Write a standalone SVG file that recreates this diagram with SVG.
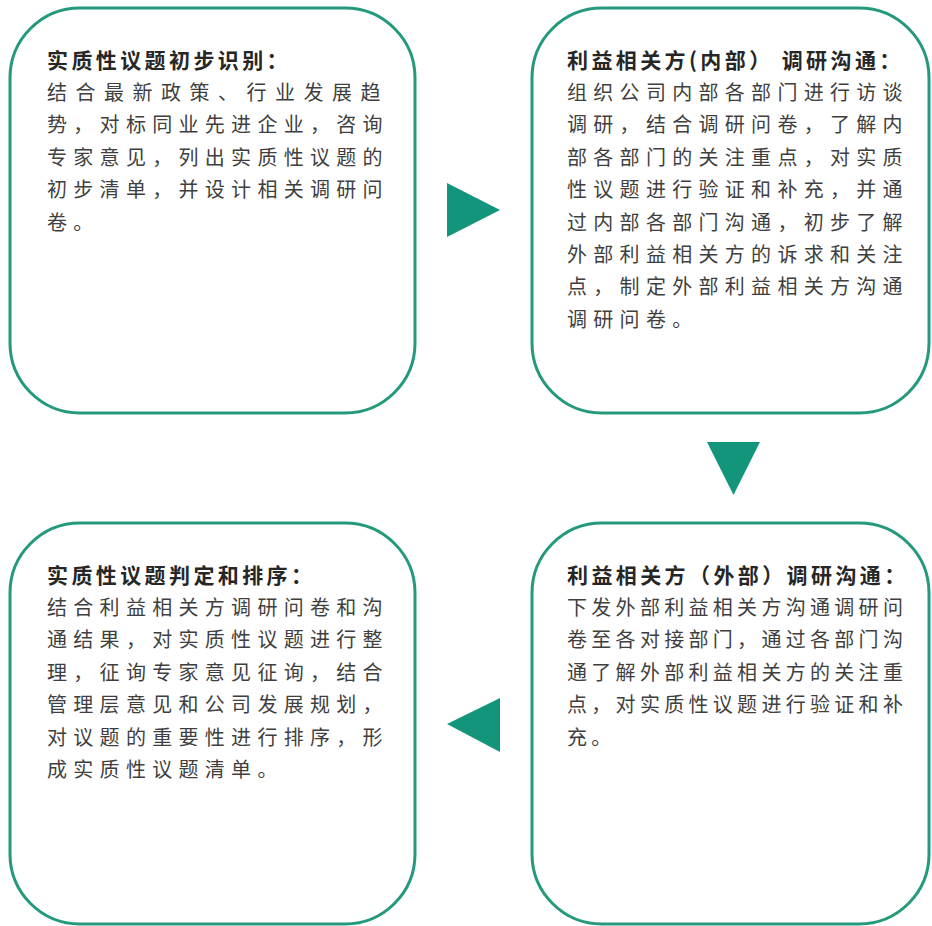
<svg xmlns="http://www.w3.org/2000/svg" width="932" height="926" viewBox="0 0 932 926">
<style>
.box{fill:#ffffff;stroke:#24997c;stroke-width:3}
.tri{fill:#12957a}
text{font-family:"Noto Sans CJK SC","Noto Sans",sans-serif}
.t{font-size:21px;font-weight:bold;fill:#262626;letter-spacing:3.4px}
.b{font-size:20px;fill:#3f3f3f}
.s1{letter-spacing:8.5px}
.s2{letter-spacing:6.3px}
.s4{letter-spacing:4.3px}
</style>
<rect width="932" height="926" fill="#ffffff"/>
<g id="node1">
<rect class="box" x="10" y="8" width="405" height="405" rx="70" ry="70"/>
<text class="t" x="47" y="68">实质性议题初步识别：</text>
<text class="b s1" x="47" y="100">结合最新政策、行业发展趋</text>
<text class="b s2" x="47" y="132.4">势，对标同业先进企业，咨询</text>
<text class="b s2" x="47" y="164.8">专家意见，列出实质性议题的</text>
<text class="b s2" x="47" y="197.2">初步清单，并设计相关调研问</text>
<text class="b s2" x="47" y="229.6">卷。</text>
</g>
<g id="node2">
<rect class="box" x="532" y="8" width="397" height="405" rx="70" ry="70"/>
<text class="t" x="567" y="68">利益相关方(内部） 调研沟通：</text>
<text class="b s2" x="567" y="100">组织公司内部各部门进行访谈</text>
<text class="b s2" x="567" y="132.4">调研，结合调研问卷，了解内</text>
<text class="b s2" x="567" y="164.8">部各部门的关注重点，对实质</text>
<text class="b s2" x="567" y="197.2">性议题进行验证和补充，并通</text>
<text class="b s2" x="567" y="229.6">过内部各部门沟通，初步了解</text>
<text class="b s2" x="567" y="262">外部利益相关方的诉求和关注</text>
<text class="b s2" x="567" y="294.4">点，制定外部利益相关方沟通</text>
<text class="b s2" x="567" y="326.8">调研问卷。</text>
</g>
<g id="node3">
<rect class="box" x="10" y="523" width="405" height="401" rx="70" ry="70"/>
<text class="t" x="47" y="583">实质性议题判定和排序：</text>
<text class="b s2" x="47" y="615">结合利益相关方调研问卷和沟</text>
<text class="b s2" x="47" y="647.4">通结果，对实质性议题进行整</text>
<text class="b s2" x="47" y="679.8">理，征询专家意见征询，结合</text>
<text class="b s2" x="47" y="712.2">管理层意见和公司发展规划，</text>
<text class="b s2" x="47" y="744.6">对议题的重要性进行排序，形</text>
<text class="b s2" x="47" y="777">成实质性议题清单。</text>
</g>
<g id="node4">
<rect class="box" x="532" y="523" width="397" height="401" rx="70" ry="70"/>
<text class="t" x="567" y="583">利益相关方（外部）调研沟通：</text>
<text class="b s4" x="567" y="615">下发外部利益相关方沟通调研问</text>
<text class="b s4" x="567" y="647.4">卷至各对接部门，通过各部门沟</text>
<text class="b s4" x="567" y="679.8">通了解外部利益相关方的关注重</text>
<text class="b s4" x="567" y="712.2">点，对实质性议题进行验证和补</text>
<text class="b s4" x="567" y="744.6">充。</text>
</g>
<g id="connectors">
<polygon class="tri" points="447,183 447,237 500,210"/>
<polygon class="tri" points="707,442 760,442 733.5,495"/>
<polygon class="tri" points="500,698 500,752 447,724"/>
</g>
</svg>
